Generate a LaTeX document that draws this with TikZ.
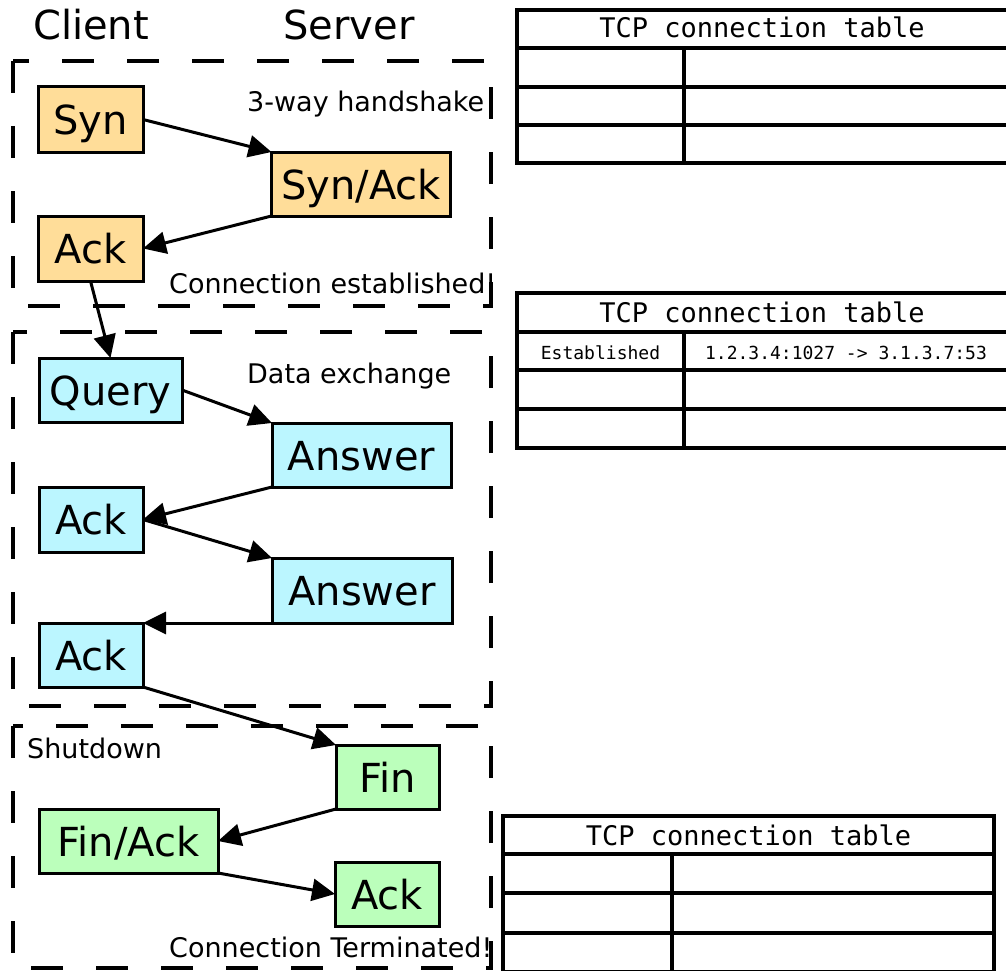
\documentclass[tikz,border=0pt]{standalone}
\usepackage{fontspec}
\setmainfont{DejaVu Sans}
\newfontfamily\tablefont{DejaVu Sans Mono}
\usetikzlibrary{arrows.meta}
\definecolor{hsfill}{HTML}{FFDD99}
\definecolor{dxfill}{HTML}{BBF6FF}
\definecolor{sdfill}{HTML}{BBFFBB}

\begin{document}
\begin{tikzpicture}[x=1pt,y=-1pt,
  pkt/.style={draw=black, line width=3pt, inner sep=0pt, outer sep=0pt,
              font=\fontsize{40}{48}\selectfont, text height=30pt, text depth=0pt},
  phase/.style={draw=black, line width=3.5pt, dash pattern=on 32pt off 33pt},
  msg/.style={draw=black, line width=3pt, -{Triangle[length=23pt,width=22pt]}},
  phaselabel/.style={anchor=base west, inner sep=0pt, font=\fontsize{27}{32}\selectfont},
  sidelabel/.style={anchor=base, inner sep=0pt, font=\fontsize{40}{48}\selectfont},
  tabline/.style={draw=black, line width=3.5pt},
  tabhead/.style={anchor=base, inner sep=0pt, font=\tablefont\fontsize{27}{32}\selectfont},
  tabcell/.style={anchor=base, inner sep=0pt, font=\tablefont\fontsize{18}{22}\selectfont},
]
\useasboundingbox (0,0) rectangle (1006,971);
\fill[white] (0,0) rectangle (1006,971);

% column headings
\node[sidelabel] (client) at (91,40) {Client};
\node[sidelabel] (server) at (349,40) {Server};

% phase frames
\draw[phase] (13,61) rectangle (491,306);
\draw[phase] (13,332) rectangle (491,706);
\draw[phase] (13,726) rectangle (491,968);

% phase labels
\node[phaselabel] (lhand) at (247,112) {3-way handshake};
\node[phaselabel] (lest) at (169,293) {Connection established!};
\node[phaselabel] (ldata) at (247,383) {Data exchange};
\node[phaselabel] (lshut) at (27,758) {Shutdown};
\node[phaselabel] (lterm) at (169,957) {Connection Terminated!};

% handshake packets
\node[pkt, fill=hsfill, minimum width=105pt, minimum height=65pt] (syn) at (90.5,119.5) {Syn};
\node[pkt, fill=hsfill, minimum width=179pt, minimum height=64pt] (synack) at (361,184) {Syn/Ack};
\node[pkt, fill=hsfill, minimum width=105pt, minimum height=65pt] (ack1) at (90.5,248.5) {Ack};

% data packets
\node[pkt, fill=dxfill, minimum width=143pt, minimum height=64pt] (query) at (110.5,390) {Query};
\node[pkt, fill=dxfill, minimum width=179pt, minimum height=64pt] (ans1) at (361.5,455) {Answer};
\node[pkt, fill=dxfill, minimum width=104pt, minimum height=65pt] (ack2) at (91,519.5) {Ack};
\node[pkt, fill=dxfill, minimum width=180pt, minimum height=65pt] (ans2) at (362,590.5) {Answer};
\node[pkt, fill=dxfill, minimum width=104pt, minimum height=64pt] (ack3) at (91,655) {Ack};

% shutdown packets
\node[pkt, fill=sdfill, minimum width=103pt, minimum height=64pt] (fin) at (387.5,777) {Fin};
\node[pkt, fill=sdfill, minimum width=179pt, minimum height=64pt] (finack) at (128.5,841) {Fin/Ack};
\node[pkt, fill=sdfill, minimum width=104pt, minimum height=64pt] (ack4) at (387,894) {Ack};

% messages
\draw[msg] (syn.east) -- (synack.north west);
\draw[msg] (synack.south west) -- (ack1.east);
\draw[msg] (ack1.south) -- (query.north);
\draw[msg] (query.east) -- (ans1.north west);
\draw[msg] (ans1.south west) -- (ack2.east);
\draw[msg] (ack2.east) -- (ans2.north west);
\draw[msg] (ans2.south west) -- (ack3.north east);
\draw[msg] (ack3.south east) -- (fin.north west);
\draw[msg] (fin.south west) -- (finack.east);
\draw[msg] (finack.south east) -- (ack4.west);

% connection table (before handshake)
\draw[tabline] (517,10) rectangle (1010,163);
\foreach \y in {48,87,125} \draw[tabline] (517,\y) -- (1010,\y);
\draw[tabline] (684,48) -- (684,163);
\node[tabhead] (t1head) at (762,38) {TCP connection table};

% connection table (established)
\draw[tabline] (517,293) rectangle (1010,448);
\foreach \y in {332,370,409} \draw[tabline] (517,\y) -- (1010,\y);
\draw[tabline] (684,332) -- (684,448);
\node[tabhead] (t2head) at (762,322) {TCP connection table};
\node[tabcell] (t2state) at (600.5,359) {Established};
\node[tabcell] (t2conn) at (846,359) {1.2.3.4:1027 -> 3.1.3.7:53};

% connection table (after shutdown)
\draw[tabline] (503,816) rectangle (994,972);
\foreach \y in {854,893,933} \draw[tabline] (503,\y) -- (994,\y);
\draw[tabline] (672,854) -- (672,972);
\node[tabhead] (t3head) at (748.5,845.5) {TCP connection table};
\end{tikzpicture}
\end{document}
